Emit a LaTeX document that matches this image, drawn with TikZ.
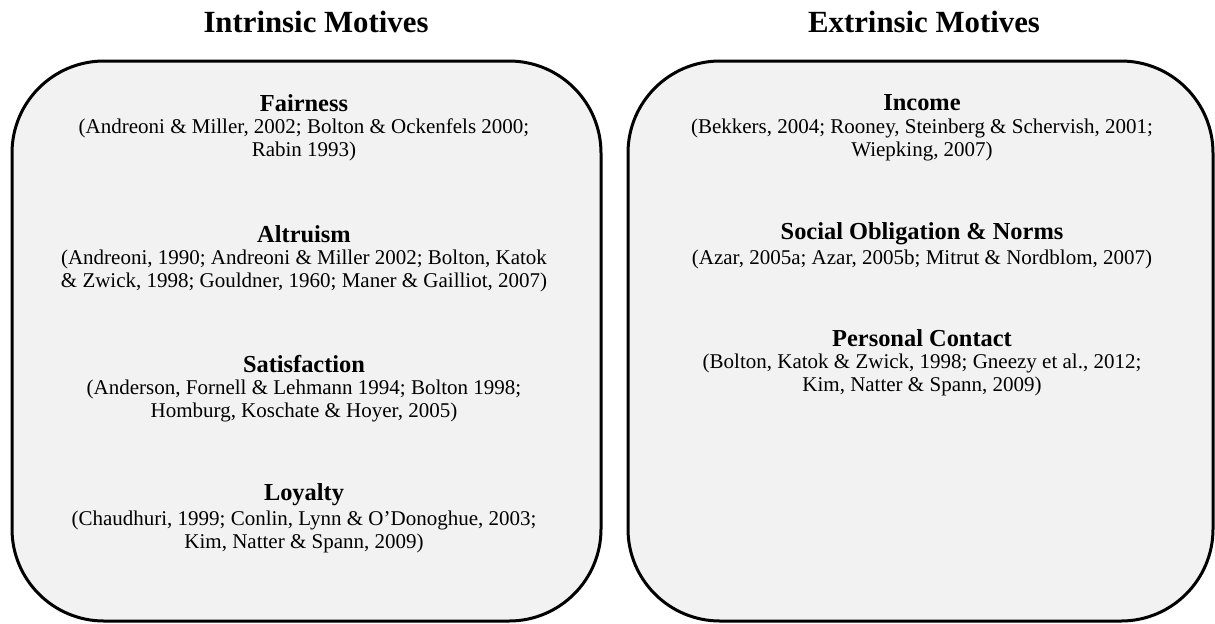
\documentclass[tikz,border=0pt]{standalone}
\usepackage{fontspec}
\setmainfont{Liberation Serif}
\usepackage{tikz}
\definecolor{panel gray}{rgb}{0.949, 0.949, 0.949}
\tikzset{
	motivebox/.style = {draw = black, line width = 1.5pt, fill = panel gray, rounded corners = 46pt},
	boxtitle/.style = {font = \fontsize{15.4}{18}\selectfont\bfseries},
	motive/.style = {font = \fontsize{12.2}{14}\selectfont\bfseries},
	refs/.style = {font = \fontsize{10.5}{11.5}\selectfont, align = center}
}

\begin{document}
\begin{tikzpicture}[x = 0.5pt, y = -0.5pt]
			\useasboundingbox (0, 0) rectangle (1215, 623);
			% part for intrinsic motives
			\begin{scope}
				\draw[motivebox] (12, 61) rectangle (601, 621);
				\node[boxtitle] (intr) at (316, 22) {Intrinsic Motives};
				\node[motive] (fair) at (304, 103) {Fairness};
				\node[refs] (fairref) at (304, 139.5) {(Andreoni \& Miller, 2002; Bolton \& Ockenfels 2000;\\ Rabin 1993)};
				\node[motive] (altr) at (304, 234) {Altruism};
				\node[refs] (altrref) at (304, 270.5) {(Andreoni, 1990; Andreoni \& Miller 2002; Bolton, Katok\\ \& Zwick, 1998; Gouldner, 1960; Maner \& Gailliot, 2007)};
				\node[motive] (satis) at (304, 364) {Satisfaction};
				\node[refs] (satisref) at (304, 400.5) {(Anderson, Fornell \& Lehmann 1994; Bolton 1998;\\ Homburg, Koschate \& Hoyer, 2005)};
				\node[motive] (loyal) at (304, 495) {Loyalty};
				\node[refs] (loyalref) at (304, 531.5) {(Chaudhuri, 1999; Conlin, Lynn \& O'Donoghue, 2003;\\ Kim, Natter \& Spann, 2009)};
			\end{scope}
			% part for extrinsic motives
			\begin{scope}
				\draw[motivebox] (628, 61) rectangle (1213, 621);
				\node[boxtitle] (extr) at (924, 22) {Extrinsic Motives};
				\node[motive] (income) at (922, 103) {Income};
				\node[refs] (incomeref) at (922, 139.5) {(Bekkers, 2004; Rooney, Steinberg \& Schervish, 2001;\\ Wiepking, 2007)};
				\node[motive] (norms) at (922, 234) {Social Obligation \& Norms};
				\node[refs] (normsref) at (922, 259) {(Azar, 2005a; Azar, 2005b; Mitrut \& Nordblom, 2007)};
				\node[motive] (contact) at (922, 338) {Personal Contact};
				\node[refs] (contactref) at (922, 374.5) {(Bolton, Katok \& Zwick, 1998; Gneezy et al., 2012;\\ Kim, Natter \& Spann, 2009)};
			\end{scope}
		\end{tikzpicture}
\end{document}
